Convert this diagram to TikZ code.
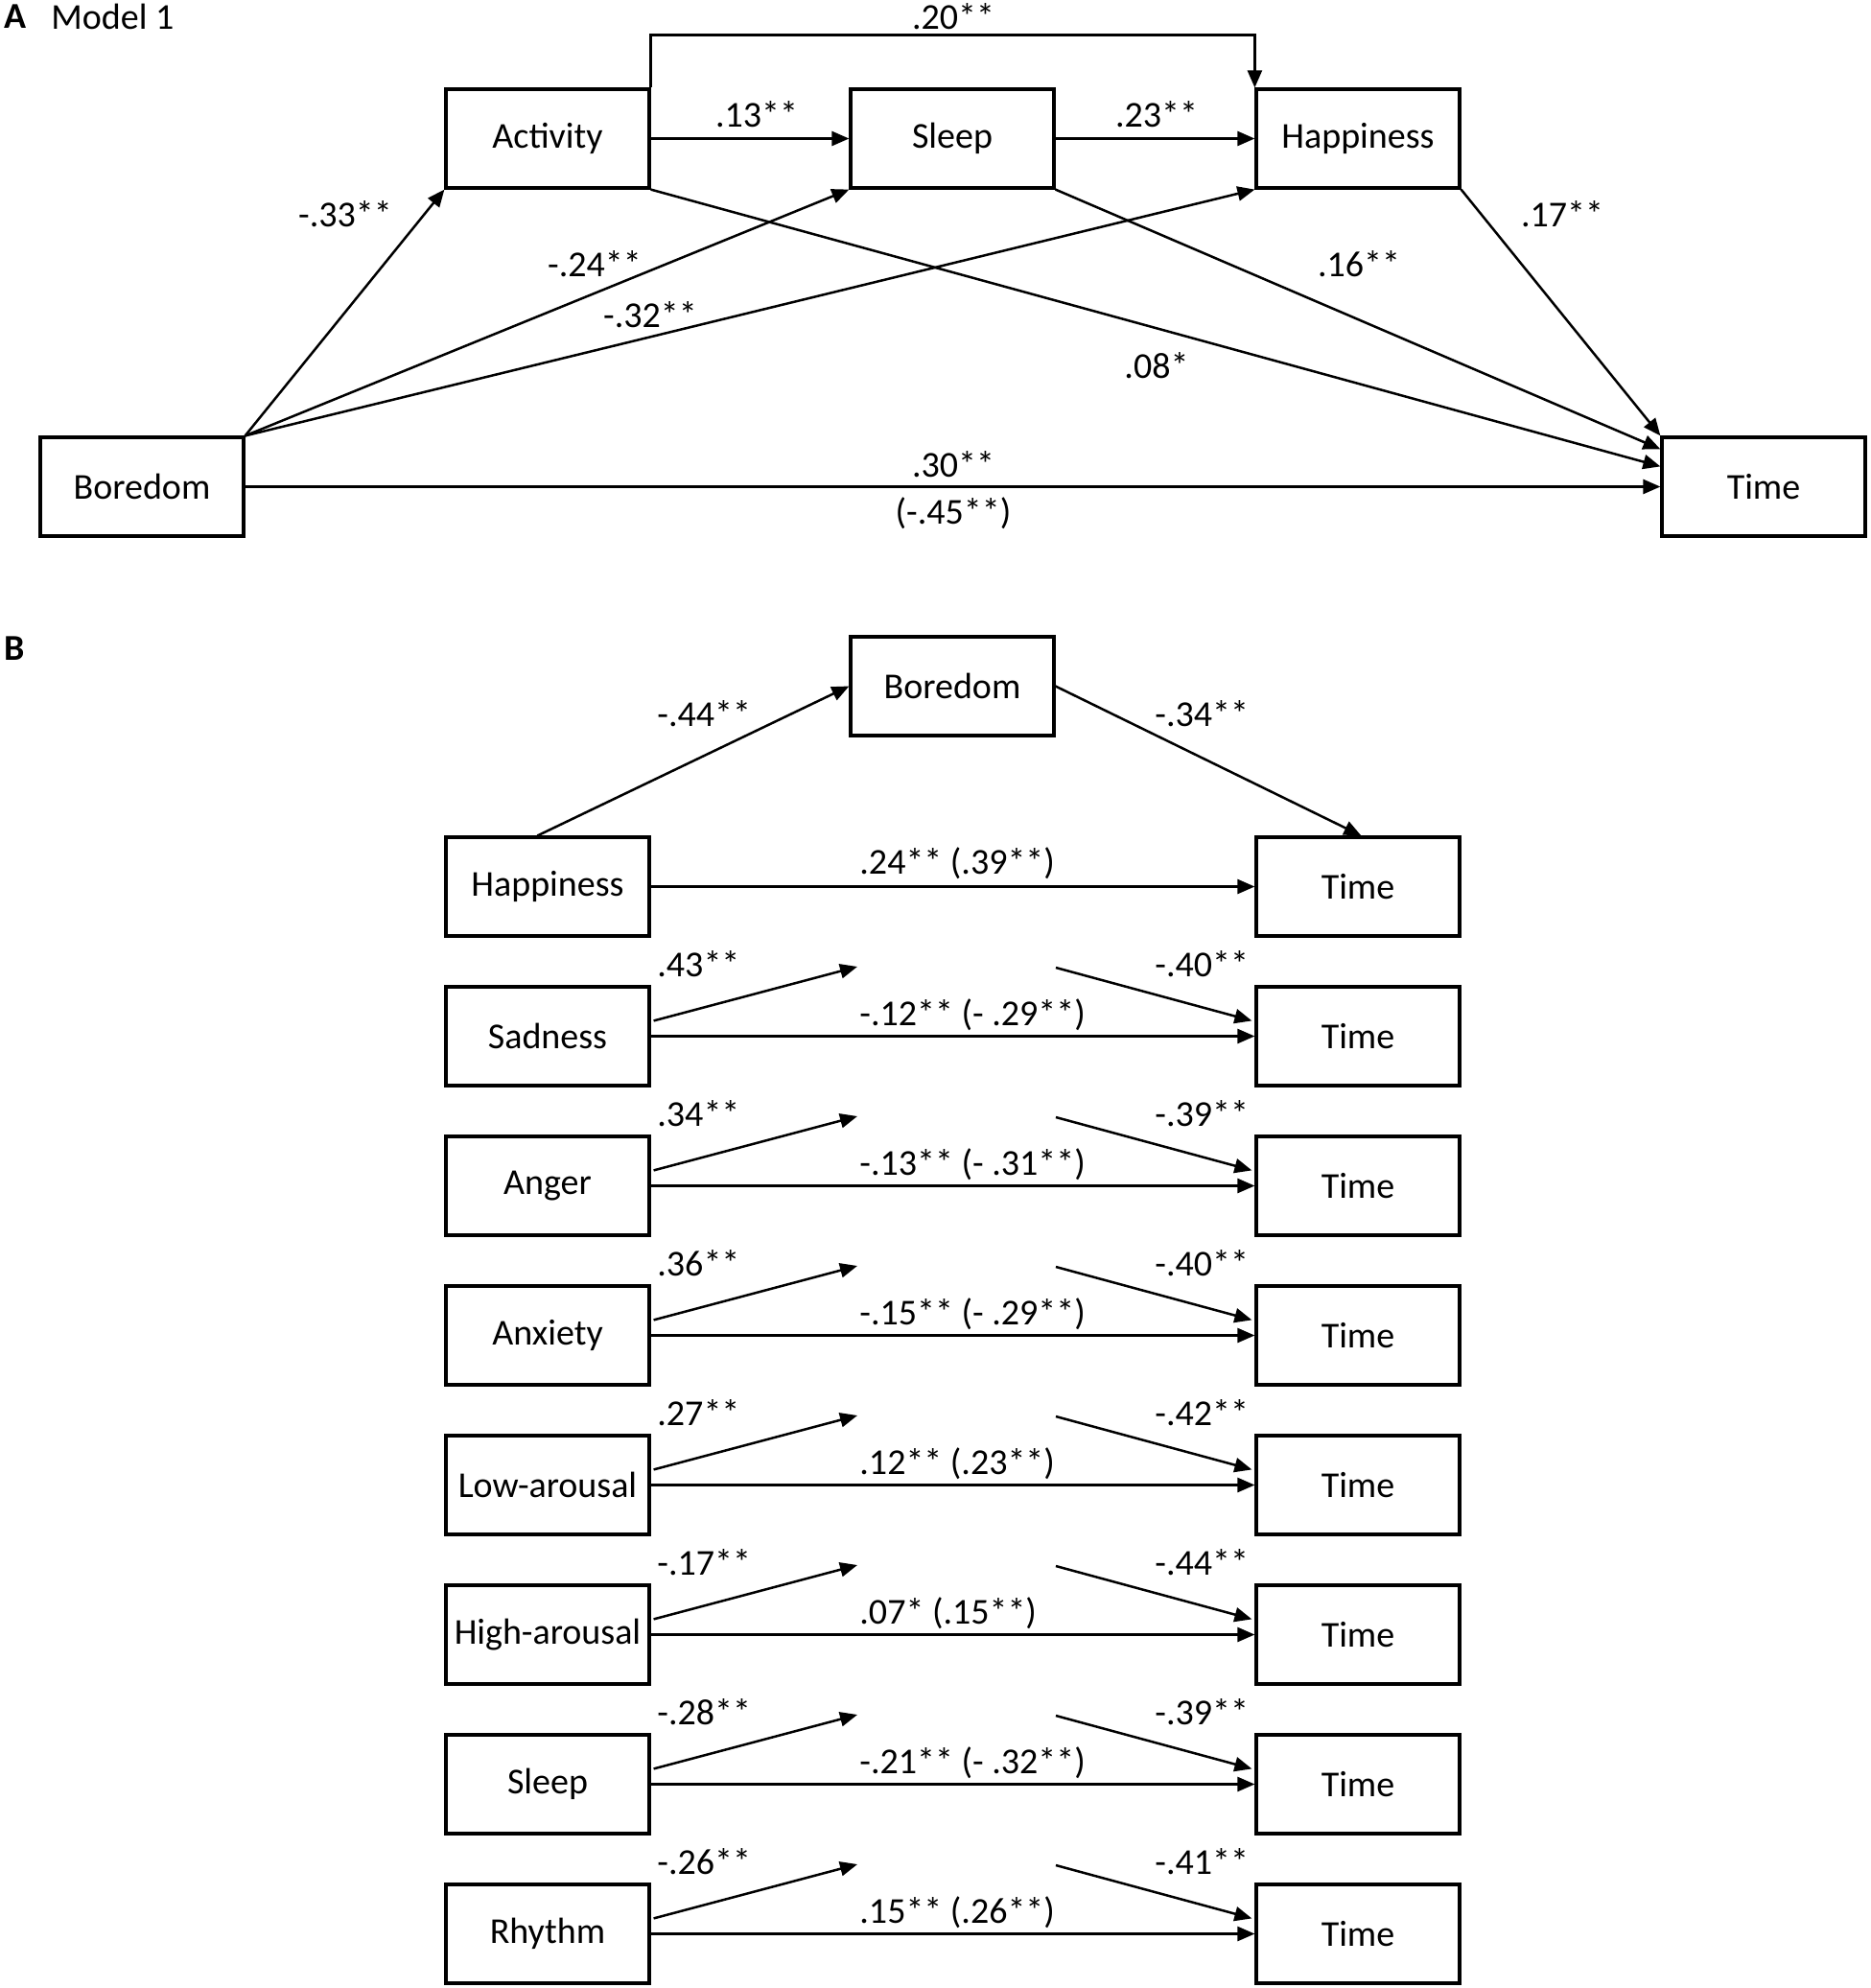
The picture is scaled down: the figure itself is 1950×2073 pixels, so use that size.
\documentclass[tikz,border=0pt]{standalone}
\usepackage{fontspec}
\setmainfont{Carlito}
\usetikzlibrary{arrows.meta,calc}
\newcommand\labfont{\fontsize{19}{23}\selectfont}
\begin{document}
\begin{tikzpicture}[x=0.5pt,y=-0.5pt,
  box/.style={draw,line width=1.6pt,minimum width=106pt,minimum height=51.5pt,inner sep=0pt,font=\labfont},
  arr/.style={line width=1.25pt,-{Triangle[length=9pt,width=7.5pt]}},
  lbl/.style={inner sep=0pt,font=\labfont},
  hdr/.style={inner sep=0pt,anchor=west,font=\labfont}]
\useasboundingbox (0,0) rectangle (1950,2073);
% ---------- Panel A ----------
\node[hdr,font=\labfont\bfseries] (A) at (4,17) {A};
\node[hdr] (M) at (53,17) {Model 1};
\node[box] (act) at (571,144.5) {Activity};
\node[box] (slp) at (993,144.5) {Sleep};
\node[box] (hap) at (1416,144.5) {Happiness};
\node[box] (bor) at (148,507.5) {Boredom};
\node[box] (tim) at (1839,507.5) {Time};
\draw[arr] (act.north east) -- ++(0,-55) -| (hap.north west);
\draw[arr] (act.east) -- (slp.west);
\draw[arr] (slp.east) -- (hap.west);
\draw[arr] (bor.north east) -- (act.south west);
\draw[arr] (bor.north east) -- (slp.south west);
\draw[arr] (bor.north east) -- (hap.south west);
\draw[arr] (act.south east) -- ($(tim.north west)+(0,32)$);
\draw[arr] (slp.south east) -- ($(tim.north west)+(0,14)$);
\draw[arr] (hap.south east) -- (tim.north west);
\draw[arr] (bor.east) -- (tim.west);
\node[lbl] at (994,17) {.20**};
\node[lbl] at (789,119) {.13**};
\node[lbl] at (1206,119) {.23**};
\node[lbl] at (360,223) {-.33**};
\node[lbl] at (620,275) {-.24**};
\node[lbl] at (678,328) {-.32**};
\node[lbl] at (1206,381) {.08*};
\node[lbl] at (1417,275) {.16**};
\node[lbl] at (1629,223) {.17**};
\node[lbl] at (994,484) {.30**};
\node[lbl] at (994,535) {(-.45**)};
% ---------- Panel B ----------
\node[hdr,font=\labfont\bfseries] (B) at (4,676) {B};
\node[box] (bB) at (993,715.5) {Boredom};
\node[box] (l0) at (571,924.5) {Happiness};
\node[box] (r0) at (1416,924.5) {Time};
\draw[arr] ($(l0.north west)+(97,0)$) -- (bB.west);
\draw[arr] (bB.east) -- ($(r0.north west)+(111,0)$);
\draw[arr] (l0.east) -- (r0.west);
\node[lbl,anchor=west] at (685,744) {-.44**};
\node[lbl,anchor=west] at (1204,744) {-.34**};
\node[lbl,anchor=west] at (896,900) {.24** (.39**)};
\foreach \i/\nm/\la/\lb/\lc in {1/Sadness/.43**/-.40**/-.12** (- .29**),
  2/Anger/.34**/-.39**/-.13** (- .31**),
  3/Anxiety/.36**/-.40**/-.15** (- .29**),
  4/Low-arousal/.27**/-.42**/.12** (.23**),
  5/High-arousal/-.17**/-.44**/.07* (.15**),
  6/Sleep/-.28**/-.39**/-.21** (- .32**),
  7/Rhythm/-.26**/-.41**/.15** (.26**)}{
  \pgfmathsetmacro\T{873+156*\i}
  \node[box] (l\i) at (571,{\T+51.5}) {\nm};
  \node[box] (r\i) at (1416,{\T+51.5}) {Time};
  \coordinate (a\i) at (894,{\T-21});
  \coordinate (b\i) at (1101,{\T-20});
  \draw[arr] ($(l\i.north east)+(3,37)$) -- (a\i);
  \draw[arr] (b\i) -- ($(r\i.north west)+(-3,37)$);
  \draw[arr] (l\i.east) -- (r\i.west);
  \node[lbl,anchor=west] at (685,{\T-24}) {\la};
  \node[lbl,anchor=west] at (1204,{\T-24}) {\lb};
  \node[lbl,anchor=west] at (896,{\T+29}) {\lc};
}
\end{tikzpicture}
\end{document}
